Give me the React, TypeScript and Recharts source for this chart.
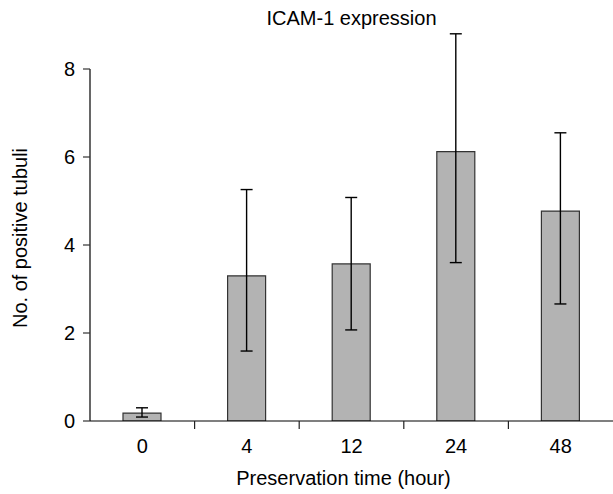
import React from 'react';
import { BarChart, Bar, XAxis, YAxis, ErrorBar, Label } from 'recharts';

const categories = ['0', '4', '12', '24', '48'];
const means = [0.18, 3.3, 3.57, 6.12, 4.77];
const errLow = [0.09, 1.71, 1.5, 2.52, 2.11];
const errHigh = [0.12, 1.96, 1.51, 2.68, 1.78];
const yTicks = [0, 2, 4, 6, 8];

const data = categories.map((c, i) => ({
  time: c,
  value: means[i],
  err: [errLow[i], errHigh[i]],
}));

const FONT = '"Liberation Sans", Arial, Helvetica, sans-serif';

const YLabel = (props: any) => {
  const vb = props.viewBox || {};
  const cy = (vb.y || 0) + (vb.height || 0) / 2 - 7;
  const x = 27;
  return (
    <text
      transform={`translate(${x},${cy}) rotate(-90)`}
      textAnchor="middle"
      fontSize={20}
      fontFamily={FONT}
      fill="#000"
    >
      No. of positive tubuli
    </text>
  );
};

const XTick = (props: any) => {
  const { x, y, payload } = props;
  const half = payload && typeof payload.offset === 'number' && payload.offset > 0 ? payload.offset : 52.3;
  const axisY = y - 18;
  const edge = x + half;
  const showLine = edge < 605;
  return (
    <g>
      {showLine && (
        <line x1={edge} x2={edge} y1={axisY} y2={axisY + 8} stroke="#222" strokeWidth={1.2} />
      )}
      <text
        x={x}
        y={y}
        dy="0.71em"
        textAnchor="middle"
        fontSize={20}
        fontFamily={FONT}
        fill="#000"
      >
        {payload.value}
      </text>
    </g>
  );
};

export default function App() {
  return (
    <div style={{ position: 'absolute', left: 0, top: 0, width: 613, height: 494, background: '#fff' }}>
      <div
        style={{
          position: 'absolute',
          left: 90,
          width: 523,
          top: 8,
          textAlign: 'center',
          fontFamily: FONT,
          fontSize: 20,
          lineHeight: '20px',
          color: '#000',
        }}
      >
        ICAM-1 expression
      </div>
      <BarChart
        width={613}
        height={494}
        data={data}
        margin={{ top: 69, right: 0, bottom: 0, left: 0 }}
        barCategoryGap={0}
      >
        <XAxis
          dataKey="time"
          height={73}
          tickSize={8}
          tickMargin={10}
          axisLine={{ stroke: '#000', strokeWidth: 1.2 }}
          tickLine={false}
          tick={<XTick />}
          interval={0}
        >
          <Label
            value="Preservation time (hour)"
            position="insideBottom"
            offset={9}
            dx={-8}
            style={{ fill: '#000', fontSize: 20, fontFamily: FONT }}
          />
        </XAxis>
        <YAxis
          width={90}
          domain={[0, 8]}
          allowDataOverflow
          ticks={yTicks}
          tickSize={7}
          tickMargin={8}
          axisLine={{ stroke: '#000', strokeWidth: 1.2 }}
          tickLine={{ stroke: '#333', strokeWidth: 1.2 }}
          tick={{ fill: '#000', fontSize: 20, fontFamily: FONT }}
          label={<YLabel />}
        />
        <Bar
          dataKey="value"
          fill="#b3b3b3"
          stroke="#333"
          strokeWidth={1.2}
          barSize={38}
          isAnimationActive={false}
        >
          <ErrorBar dataKey="err" width={6} stroke="#000" strokeWidth={1.4} direction="y" />
        </Bar>
      </BarChart>
    </div>
  );
}
